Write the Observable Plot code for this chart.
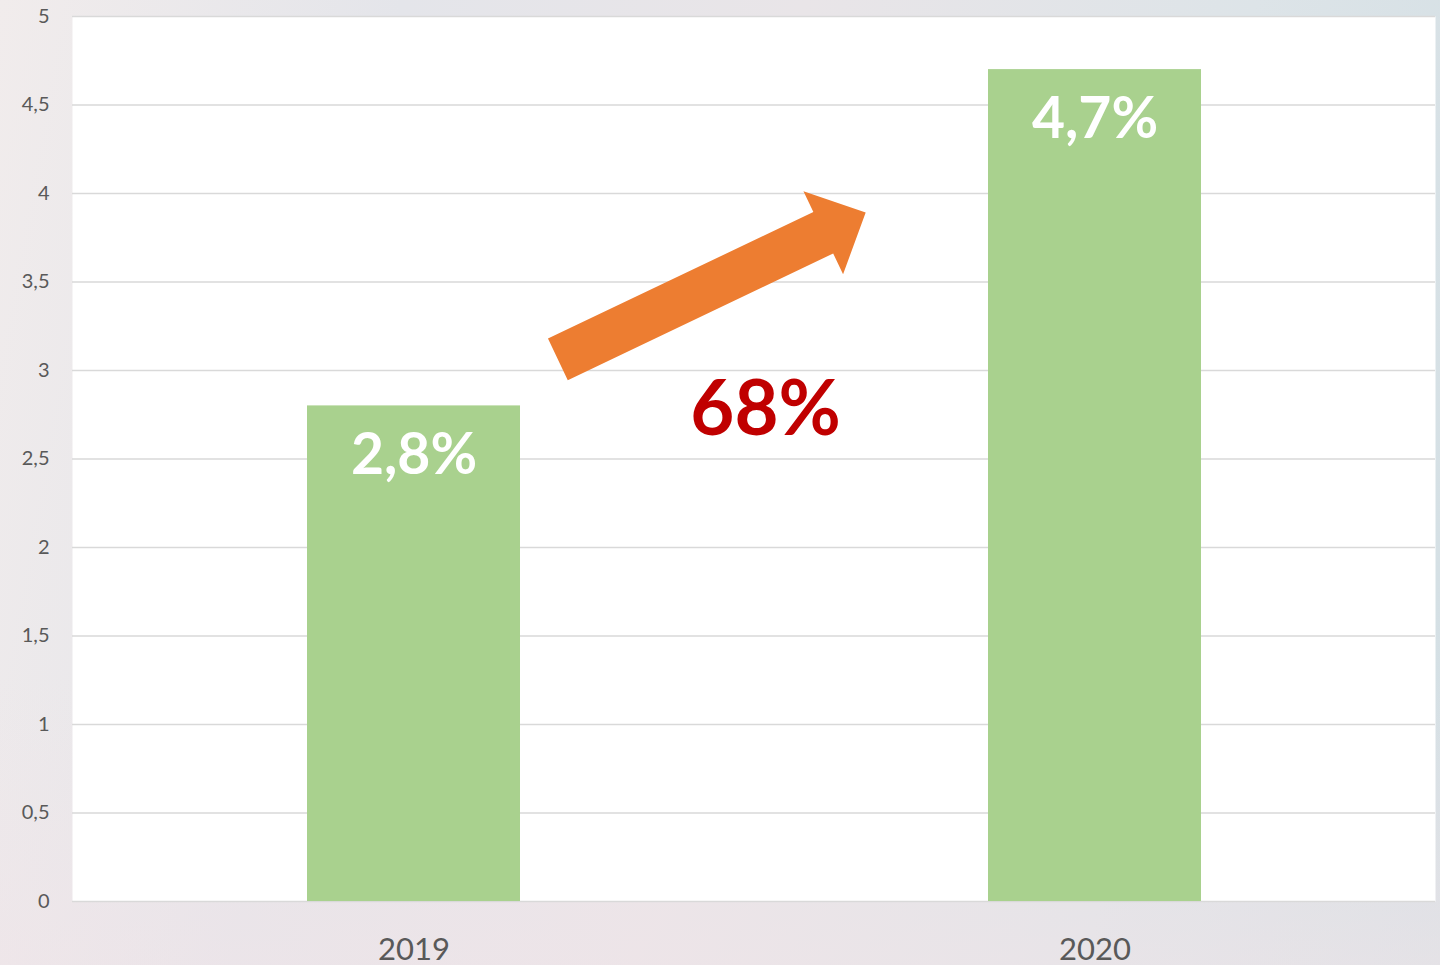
<!DOCTYPE html>
<html>
<head>
<meta charset="utf-8">
<script src="https://cdn.jsdelivr.net/npm/d3@7"></script>
<script src="https://cdn.jsdelivr.net/npm/@observablehq/plot@0.6"></script>
<style>
html, body { margin: 0; padding: 0; width: 1440px; height: 965px; overflow: hidden; }
body {
  background:
    linear-gradient(180deg, rgba(255,255,255,0) 70%, rgba(240,228,232,0.6) 100%),
    linear-gradient(100deg, #f1ecec 0%, #e4e5ea 25%, #e9e5e8 50%, #dde4e8 78%, #d3dfe4 100%);
  font-family: Lato, "Open Sans", sans-serif;
}
#chart svg { display: block; }
</style>
</head>
<body>
<div id="chart"></div>
<script>
// ---- data ----
const years = ["2019", "2020"];
const shares = [2.8, 4.7];
const yTicks = [0, 0.5, 1, 1.5, 2, 2.5, 3, 3.5, 4, 4.5, 5];

// annotation arrow, in data space (t = fraction of the way from the 2019 to the 2020 bar centre)
const arrowFrom = { t: 0.212, value: 3.06 };
const arrowTo = { t: 0.664, value: 3.89 };
const growthAt = { t: 0.517, value: 2.63 };

const comma = v => String(v).replace(".", ",");
const data = years.map((y, i) => ({ year: y, value: shares[i], label: comma(shares[i]) + "%" }));
const growthLabel = Math.round((shares[1] - shares[0]) / shares[0] * 100) + "%";

const font = "Lato, 'Open Sans', sans-serif";

function annotation(index, scales, values, dimensions) {
  const x0 = scales.x(years[0]), x1 = scales.x(years[1]);
  const step = x1 - x0;
  const cx = t => x0 + step / 2 + t * step;
  const S = [cx(arrowFrom.t), scales.y(arrowFrom.value)];
  const T = [cx(arrowTo.t), scales.y(arrowTo.value)];
  const dx = T[0] - S[0], dy = T[1] - S[1], len = Math.hypot(dx, dy);
  const u = [dx / len, dy / len], n = [-u[1], u[0]];
  const hw = 23, hh = 46, hl = 47;
  const B = [T[0] - u[0] * hl, T[1] - u[1] * hl];
  const p = (P, k) => [P[0] + n[0] * k, P[1] + n[1] * k];
  const pts = [p(S, hw), p(B, hw), p(B, hh), T, p(B, -hh), p(B, -hw), p(S, -hw)];
  const g = d3.create("svg:g");
  g.append("polygon")
    .attr("points", pts.map(q => q.join(",")).join(" "))
    .attr("fill", "#ed7d31");
  g.append("text")
    .attr("x", cx(growthAt.t))
    .attr("y", scales.y(growthAt.value))
    .attr("text-anchor", "middle")
    .attr("font-family", font)
    .attr("font-weight", 700)
    .attr("font-size", 76)
    .attr("fill", "#c00000")
    .text(growthLabel);
  return g.node();
}

const chart = Plot.plot({
  width: 1440,
  height: 965,
  marginLeft: 72,
  marginRight: 5,
  marginTop: 16,
  marginBottom: 64,
  style: { background: "transparent", fontFamily: font, overflow: "visible" },
  x: { domain: years, padding: 0, label: null },
  y: { domain: [0, 5], label: null },
  marks: [
    Plot.frame({ fill: "white" }),
    Plot.ruleY(yTicks, { stroke: "#d9d9d9", strokeWidth: 1.6 }),
    Plot.barY(data, { x: "year", y: "value", fill: "#a9d18e", insetLeft: 234, insetRight: 234 }),
    Plot.text(data, {
      x: "year", y: "value", text: "label", dy: 50,
      fill: "white", fontSize: 57, fontWeight: 700, fontFamily: font
    }),
    Plot.axisY(yTicks, {
      tickSize: 0, tickPadding: 23, fontSize: 20, fill: "#595959",
      tickFormat: comma, fontFamily: font
    }),
    Plot.axisX({
      tickSize: 0, tickPadding: 36, fontSize: 31, fill: "#595959", fontFamily: font
    }),
    annotation
  ]
});
document.getElementById("chart").appendChild(chart);
</script>
</body>
</html>
